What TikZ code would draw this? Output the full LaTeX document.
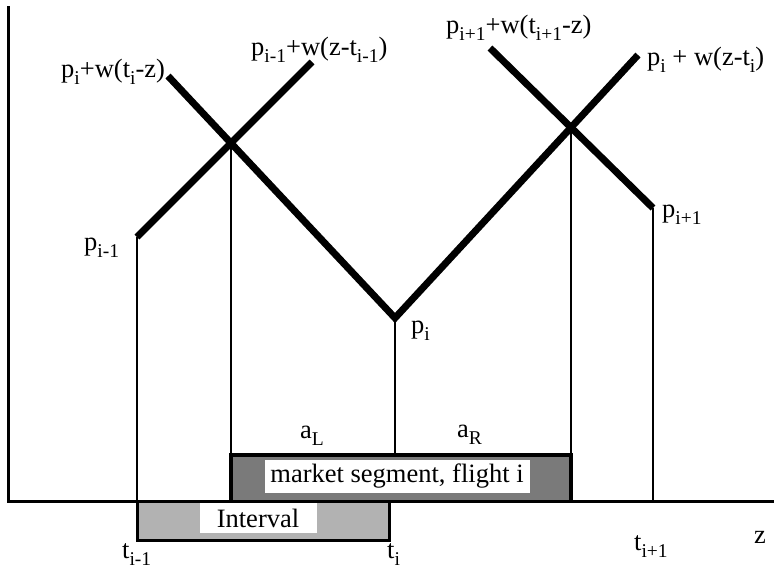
\documentclass[tikz,border=0pt]{standalone}
\usepackage{fontspec}
\setmainfont{Liberation Serif}
\usetikzlibrary{intersections}
\newcommand\sbx[1]{\raisebox{-7pt}{\fontsize{19.5}{19.5}\selectfont #1}}
\begin{document}
\begin{tikzpicture}[x=1pt,y=-1pt,
  lbl/.style={font=\fontsize{26.5}{26.5}\selectfont, inner sep=0pt, anchor=base west},
  boxlbl/.style={font=\fontsize{26.5}{26.5}\selectfont, inner sep=0pt, fill=white, anchor=center},
  heavy/.style={line width=7pt},
  thinline/.style={line width=2pt},
  axisline/.style={line width=3pt}]
\useasboundingbox (0,0) rectangle (774,573);
% points
\coordinate (O) at (8,501);
\coordinate (ytop) at (8,6);
\coordinate (xend) at (774,501);
\coordinate (mt) at (0,455);
\coordinate (ib) at (0,540);
\coordinate (pim1) at (137,237);
\coordinate (Aend) at (312,62);
\coordinate (Bstart) at (168,76);
\coordinate (pi) at (395,318);
\coordinate (Cend) at (638,55);
\coordinate (Dstart) at (490,48);
\coordinate (pip1) at (653,208);
\coordinate (ir) at (389,501);
\path[name path=A] (pim1) -- (Aend);
\path[name path=B] (Bstart) -- (pi);
\path[name path=C] (pi) -- (Cend);
\path[name path=D] (Dstart) -- (pip1);
\path[name intersections={of=A and B, by=XL}];
\path[name intersections={of=C and D, by=XR}];
% market segment box
\fill[black!52] (XL |- mt) rectangle (XR |- O);
\node[boxlbl, minimum width=265pt, minimum height=33pt] (mlab) at (397,476) {market segment, flight i};
% interval box
\fill[black!30] (pim1 |- O) rectangle (ir |- ib);
\node[boxlbl, minimum width=117pt, minimum height=30pt] (ilab) at (258,518) {Interval};
\draw[line width=3pt] (pim1 |- O) -- (pim1 |- ib) -- (ir |- ib) -- (ir);
% axes
\draw[axisline] (ytop) -- (O) -- (xend);
\draw[line width=4pt] (XL |- O) -- (XL |- mt) -- (XR |- mt) -- (XR |- O);
% verticals
\draw[thinline] (pim1) -- (pim1 |- O);
\draw[thinline] (XL) -- (XL |- mt);
\draw[thinline] (pi) -- (pi |- mt);
\draw[thinline] (XR) -- (XR |- mt);
\draw[thinline] (pip1) -- (pip1 |- O);
% heavy lines
\draw[heavy] (pim1) -- (Aend);
\draw[heavy, line join=miter] (Bstart) -- (pi) -- (Cend);
\draw[heavy] (Dstart) -- (pip1);
% labels
\node[lbl] (lpim1) at (84,250) {p\sbx{i-1}};
\node[lbl] (lB) at (61,77) {p\sbx{i}+w(t\sbx{i}-z)};
\node[lbl] (lA) at (251,55) {p\sbx{i-1}+w(z-t\sbx{i-1})};
\node[lbl] (lD) at (446,33) {p\sbx{i+1}+w(t\sbx{i+1}-z)};
\node[lbl] (lC) at (647,65) {p\sbx{i} + w(z-t\sbx{i})};
\node[lbl] (lpip1) at (662,217) {p\sbx{i+1}};
\node[lbl] (lpi) at (411,333) {p\sbx{i}};
\node[lbl] (laL) at (300,438) {a\sbx{L}};
\node[lbl] (laR) at (457,437) {a\sbx{R}};
\node[lbl] (ltim1) at (122,558) {t\sbx{i-1}};
\node[lbl] (lti) at (387,558) {t\sbx{i}};
\node[lbl] (ltip1) at (634,550) {t\sbx{i+1}};
\node[lbl] (lz) at (754,543) {z};
\end{tikzpicture}
\end{document}
